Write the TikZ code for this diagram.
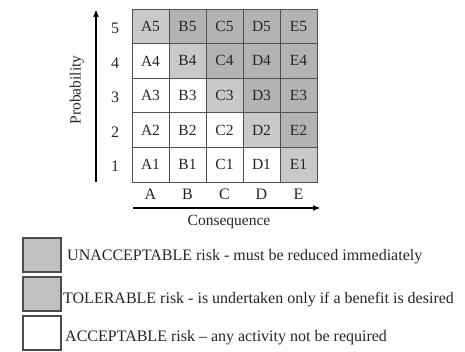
\documentclass[tikz,border=0pt]{standalone}
\usepackage{fontspec}
\setmainfont{Liberation Serif}
\usetikzlibrary{arrows.meta}
\definecolor{lightrisk}{HTML}{C9C9C9}
\definecolor{darkrisk}{HTML}{B3B3B3}
\definecolor{legendgray}{HTML}{C0C0C0}
\definecolor{gridline}{HTML}{505050}
\begin{document}
\begin{tikzpicture}[x=1pt,y=-1pt,
  cellbox/.style={draw=gridline,line width=0.9pt,minimum width=37pt,minimum height=34.6pt,
    inner sep=0pt,font=\fontsize{15.5}{17}\selectfont,text=black!85},
  axislabel/.style={font=\fontsize{16}{18}\selectfont,text=black!85},
  axisarrow/.style={line width=1.4pt,-{Triangle[length=7pt,width=5pt]}},
  legendbox/.style={draw=black!70,line width=1.2pt,minimum width=38pt,minimum height=34pt,inner sep=0pt},
  legendtext/.style={font=\fontsize{16}{18}\selectfont,anchor=west,inner sep=0pt,text=black!85}]
\useasboundingbox (0,0) rectangle (465,352);
% risk matrix cells: column index 1..5 (A..E), row index 1..5
\foreach \c/\col in {1/A,2/B,3/C,4/D,5/E}{
  \foreach \r in {1,...,5}{
    \pgfmathtruncatemacro{\s}{\c+\r}
    \ifnum\s>6
      \def\fillc{darkrisk}
    \else\ifnum\s=6
      \def\fillc{lightrisk}
    \else
      \def\fillc{white}
    \fi\fi
    \node[cellbox,fill=\fillc] (\col\r) at ({132+37*(\c-0.5)},{9+34.6*(5-\r+0.5)}) {\col\r};
  }
}
% row and column labels
\foreach \r in {1,...,5}{
  \node[axislabel,anchor=east] (p\r) at ([xshift=-9pt,yshift=-2pt]A\r.west) {\r};
}
\foreach \col in {A,B,C,D,E}{
  \node[axislabel] (q\col) at ([yshift=-12pt]\col1.south) {\col};
}
% axes
\coordinate (ybot) at (96,182);
\coordinate (ytop) at (96,10);
\draw[axisarrow] (ybot) -- (ytop);
\coordinate (xleft) at (133,208);
\coordinate (xright) at (320,208);
\draw[axisarrow] (xleft) -- (xright);
\node[font=\fontsize{15.5}{17}\selectfont,rotate=90,text=black!85] (prob) at (77,90) {Probability};
\node[font=\fontsize{15.5}{17}\selectfont,text=black!85] (cons) at (229,222) {Consequence};
% legend
\node[legendbox,fill=legendgray] (l1) at (42,255) {};
\node[legendbox,fill=legendgray] (l2) at (42,294) {};
\node[legendbox,fill=white] (l3) at (42,333) {};
\node[legendtext] (t1) at (67,257) {UNACCEPTABLE risk - must be reduced immediately};
\node[legendtext] (t2) at (63,300) {TOLERABLE risk - is undertaken only if a benefit is desired};
\node[legendtext] (t3) at (65,338) {ACCEPTABLE risk -- any activity not be required};
\end{tikzpicture}
\end{document}
